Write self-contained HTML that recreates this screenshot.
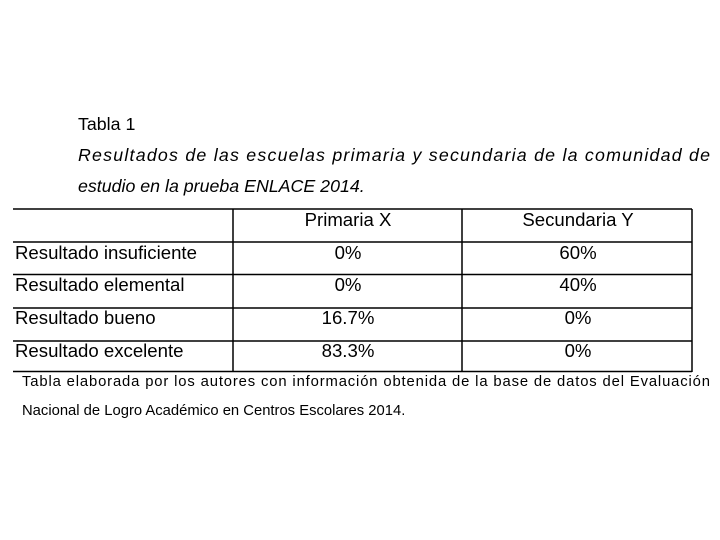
<!DOCTYPE html>
<html><head><meta charset="utf-8"><style>
html,body{margin:0;padding:0;background:#fff;}
</style></head><body>
<svg width="720" height="540" xmlns="http://www.w3.org/2000/svg" style="display:block;font-family:'Liberation Sans',Arial,sans-serif;">
<rect width="720" height="540" fill="#fff"/>
<text x="78" y="130" font-size="17.8" fill="#000">Tabla 1</text>
<text x="78" y="161" font-size="17.8" font-style="italic" fill="#000" textLength="632" lengthAdjust="spacing">Resultados de las escuelas primaria y secundaria de la comunidad de</text>
<text x="78" y="192" font-size="17.8" font-style="italic" fill="#000">estudio en la prueba ENLACE 2014.</text>
<g stroke="#000" stroke-width="1.5">
<line x1="13" y1="209" x2="692" y2="209"/>
<line x1="13" y1="242" x2="692" y2="242"/>
<line x1="13" y1="274.5" x2="692" y2="274.5"/>
<line x1="13" y1="308" x2="692" y2="308"/>
<line x1="13" y1="341" x2="692" y2="341"/>
<line x1="13" y1="371.5" x2="692" y2="371.5"/>
<line x1="233" y1="209" x2="233" y2="372"/>
<line x1="462" y1="209" x2="462" y2="372"/>
<line x1="692" y1="209" x2="692" y2="372"/>
</g>
<g font-size="18.6" fill="#000">
<text x="348" y="226" text-anchor="middle">Primaria X</text>
<text x="578" y="226" text-anchor="middle">Secundaria Y</text>
<text x="15" y="259">Resultado insuficiente</text>
<text x="15" y="291">Resultado elemental</text>
<text x="15" y="324">Resultado bueno</text>
<text x="15" y="357">Resultado excelente</text>
<text x="348" y="259" text-anchor="middle">0%</text>
<text x="348" y="291" text-anchor="middle">0%</text>
<text x="348" y="324" text-anchor="middle">16.7%</text>
<text x="348" y="357" text-anchor="middle">83.3%</text>
<text x="578" y="259" text-anchor="middle">60%</text>
<text x="578" y="291" text-anchor="middle">40%</text>
<text x="578" y="324" text-anchor="middle">0%</text>
<text x="578" y="357" text-anchor="middle">0%</text>
</g>
<text x="22" y="386" font-size="14.8" fill="#000" textLength="688" lengthAdjust="spacing">Tabla elaborada por los autores con información obtenida de la base de datos del Evaluación</text>
<text x="22" y="415" font-size="14.8" fill="#000">Nacional de Logro Académico en Centros Escolares 2014.</text>
</svg>
</body></html>
